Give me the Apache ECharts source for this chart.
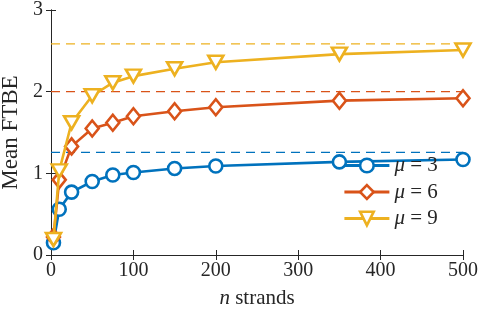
<!DOCTYPE html>
<html><head><meta charset="utf-8">
<script src="https://cdn.jsdelivr.net/npm/echarts@6/dist/echarts.min.js"></script>
<style>html,body{margin:0;padding:0;background:#fff}#c{width:482px;height:311px}</style>
</head><body><div id="c"></div>
<script>
const strands = [3, 10, 25, 50, 75, 100, 150, 200, 350, 500];
const mu3 = [0.15, 0.56, 0.77, 0.90, 0.98, 1.01, 1.06, 1.09, 1.14, 1.17];
const mu6 = [0.22, 0.92, 1.33, 1.55, 1.62, 1.70, 1.76, 1.81, 1.89, 1.92];
const mu9 = [0.19, 1.03, 1.62, 1.95, 2.11, 2.19, 2.28, 2.36, 2.46, 2.51];
const limits = [1.256, 2.0, 2.585];
const seriesNames = ['μ = 3', 'μ = 6', 'μ = 9'];
const xTicks = [0, 100, 200, 300, 400, 500];
const yTicks = [0, 1, 2, 3];

const colors = ['#0072BD', '#D95319', '#EDB120'];
const symbols = ['circle', 'diamond', 'path://M0,0 L12,0 L6,10 Z'];
const sizes = [13, [13, 16], [15, 13]];
const FONT = 'Liberation Serif';
const axisColor = '#262626';

const chart = echarts.init(document.getElementById('c'));
const pair = (xs, ys) => xs.map((x, i) => [x, ys[i]]);
const vals = [mu3, mu6, mu9];

const series = [];
limits.forEach((v, i) => {
  series.push({
    type: 'line', data: [[xTicks[0], v], [xTicks[xTicks.length - 1], v]],
    symbol: 'none', silent: true, z: 1,
    lineStyle: { color: colors[i], width: 1.3, type: [9, 6] }
  });
});
vals.forEach((ys, i) => {
  series.push({
    name: seriesNames[i], type: 'line', data: pair(strands, ys),
    symbol: symbols[i], symbolSize: sizes[i], z: 3 + i,
    lineStyle: { color: colors[i], width: 2.6 },
    itemStyle: { color: '#fff', borderColor: colors[i], borderWidth: 2.6 }
  });
});

const rich = {
  m: { fontFamily: FONT, fontStyle: 'italic', fontSize: 21, color: '#262626', lineHeight: 22 },
  t: { fontFamily: FONT, fontSize: 21, color: '#262626', lineHeight: 22 }
};

chart.setOption({
  animation: false,
  grid: { left: 51, right: 19, top: 10, bottom: 56, containLabel: false, outerBoundsMode: 'none' },
  legend: {
    data: seriesNames, orient: 'vertical', left: 343, top: 155,
    itemWidth: 45, itemHeight: 17, itemGap: 5.5, padding: 0,
    formatter: n => '{m|μ}{t| = ' + n.split('= ')[1] + '}',
    textStyle: { rich: rich, fontFamily: FONT, fontSize: 21, color: '#262626' },
    lineStyle: { width: 2.8 },
    itemStyle: { borderWidth: 2.6 },
    backgroundColor: 'transparent'
  },
  xAxis: [{
    type: 'value', min: 0, max: 500, interval: 100,
    name: '{m|n}{t| strands}', nameLocation: 'middle', nameGap: 32,
    nameTextStyle: { rich: rich },
    axisLine: { show: true, lineStyle: { color: axisColor, width: 1 } },
    axisTick: { show: true, inside: true, length: 5, lineStyle: { color: axisColor } },
    axisLabel: { fontFamily: FONT, fontSize: 20, color: '#262626', margin: 6 },
    splitLine: { show: false }
  }, {
    type: 'value', min: 0, max: 500, interval: 100, position: 'top',
    axisLine: { show: true, lineStyle: { color: axisColor, width: 1 } },
    axisTick: { show: true, inside: true, length: 5, lineStyle: { color: axisColor } },
    axisLabel: { show: false }, splitLine: { show: false }
  }],
  yAxis: [{
    type: 'value', min: 0, max: 3, interval: 1,
    name: 'Mean FTBE', nameLocation: 'middle', nameGap: 26,
    nameTextStyle: { fontFamily: FONT, fontSize: 23, color: '#262626' },
    axisLine: { show: true, lineStyle: { color: axisColor, width: 1 } },
    axisTick: { show: true, inside: true, length: 5, lineStyle: { color: axisColor } },
    axisLabel: { fontFamily: FONT, fontSize: 20, color: '#262626', margin: 8 },
    splitLine: { show: false }
  }, {
    type: 'value', min: 0, max: 3, interval: 1, position: 'right',
    axisLine: { show: true, lineStyle: { color: axisColor, width: 1 } },
    axisTick: { show: true, inside: true, length: 5, lineStyle: { color: axisColor } },
    axisLabel: { show: false }, splitLine: { show: false }
  }],
  series: series
});
</script></body></html>
